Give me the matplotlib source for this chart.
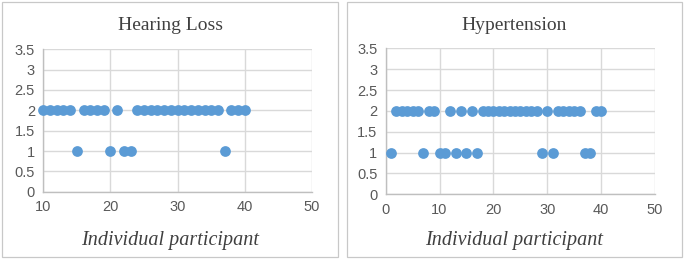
import matplotlib
matplotlib.use("Agg")
import matplotlib.pyplot as plt
from matplotlib.patches import Rectangle

# Data
hearing_x = list(range(10, 41))
hearing_y = [2, 2, 2, 2, 2, 1, 2, 2, 2, 2, 1, 2, 1, 1, 2, 2, 2, 2, 2, 2, 2, 2, 2, 2, 2, 2, 2, 1, 2, 2, 2]
hyper_x = list(range(1, 41))
hyper_ones = [1, 7, 10, 11, 13, 15, 17, 29, 31, 37, 38]
hyper_y = [1 if v in hyper_ones else 2 for v in hyper_x]

titles = ["Hearing Loss", "Hypertension"]
xlabel = "Individual participant"
hearing_xticks = [10, 20, 30, 40, 50]
hyper_xticks = [0, 10, 20, 30, 40, 50]
yticks = [0, 0.5, 1, 1.5, 2, 2.5, 3, 3.5]

W, H = 685, 261
fig = plt.figure(figsize=(W / 100, H / 100), dpi=100)

def fx(px):
    return px / W

def fy(py):
    return 1 - py / H

# panel borders
for (x0, x1) in [(2, 338), (347, 682)]:
    fig.patches.append(Rectangle((fx(x0), fy(256.5)), fx(x1 - x0), (254.5) / H,
                                 transform=fig.transFigure, fill=False,
                                 edgecolor="#C8C8C8", linewidth=0.9))

marker_color = "#5B9BD5"
tick_color = "#595959"
grid_color = "#D9D9D9"

panels = [
    (43.3, 312, 49.3, 191.7, hearing_x, hearing_y, hearing_xticks, (10, 50), 170, titles[0], 25, 240),
    (385.7, 655, 48.3, 194.3, hyper_x, hyper_y, hyper_xticks, (0, 50), 514, titles[1], 25, 240),
]

for (l, r, t, b, xs, ys, xt, xlim, cx, title, ty, ly) in panels:
    ax = fig.add_axes([fx(l), fy(b), fx(r - l), (b - t) / H])
    ax.set_xlim(*xlim)
    ax.set_ylim(0, 3.5)
    ax.set_xticks(xt)
    ax.set_yticks(yticks)
    ax.set_yticklabels(["%g" % v for v in yticks])
    ax.grid(True, color=grid_color, linewidth=1.0)
    ax.set_axisbelow(True)
    for s in ["top", "right"]:
        ax.spines[s].set_visible(False)
    for s in ["left", "bottom"]:
        ax.spines[s].set_color("#BFBFBF")
        ax.spines[s].set_linewidth(1.0)
    ax.tick_params(length=0, labelsize=10.5, labelcolor=tick_color, pad=6)
    for lab in ax.get_xticklabels() + ax.get_yticklabels():
        lab.set_family("Liberation Sans")
    ax.scatter(xs, ys, s=60, color=marker_color, zorder=3, clip_on=False, linewidths=0)
    fig.text(fx(cx), fy(ty), title, ha="center", va="center", family="Liberation Serif",
             fontsize=14, color="#404040")
    fig.text(fx(cx), fy(ly), xlabel, ha="center", va="center", family="Liberation Serif",
             style="italic", fontsize=14.5, color="#404040")

fig.savefig("out.png", dpi=100)
